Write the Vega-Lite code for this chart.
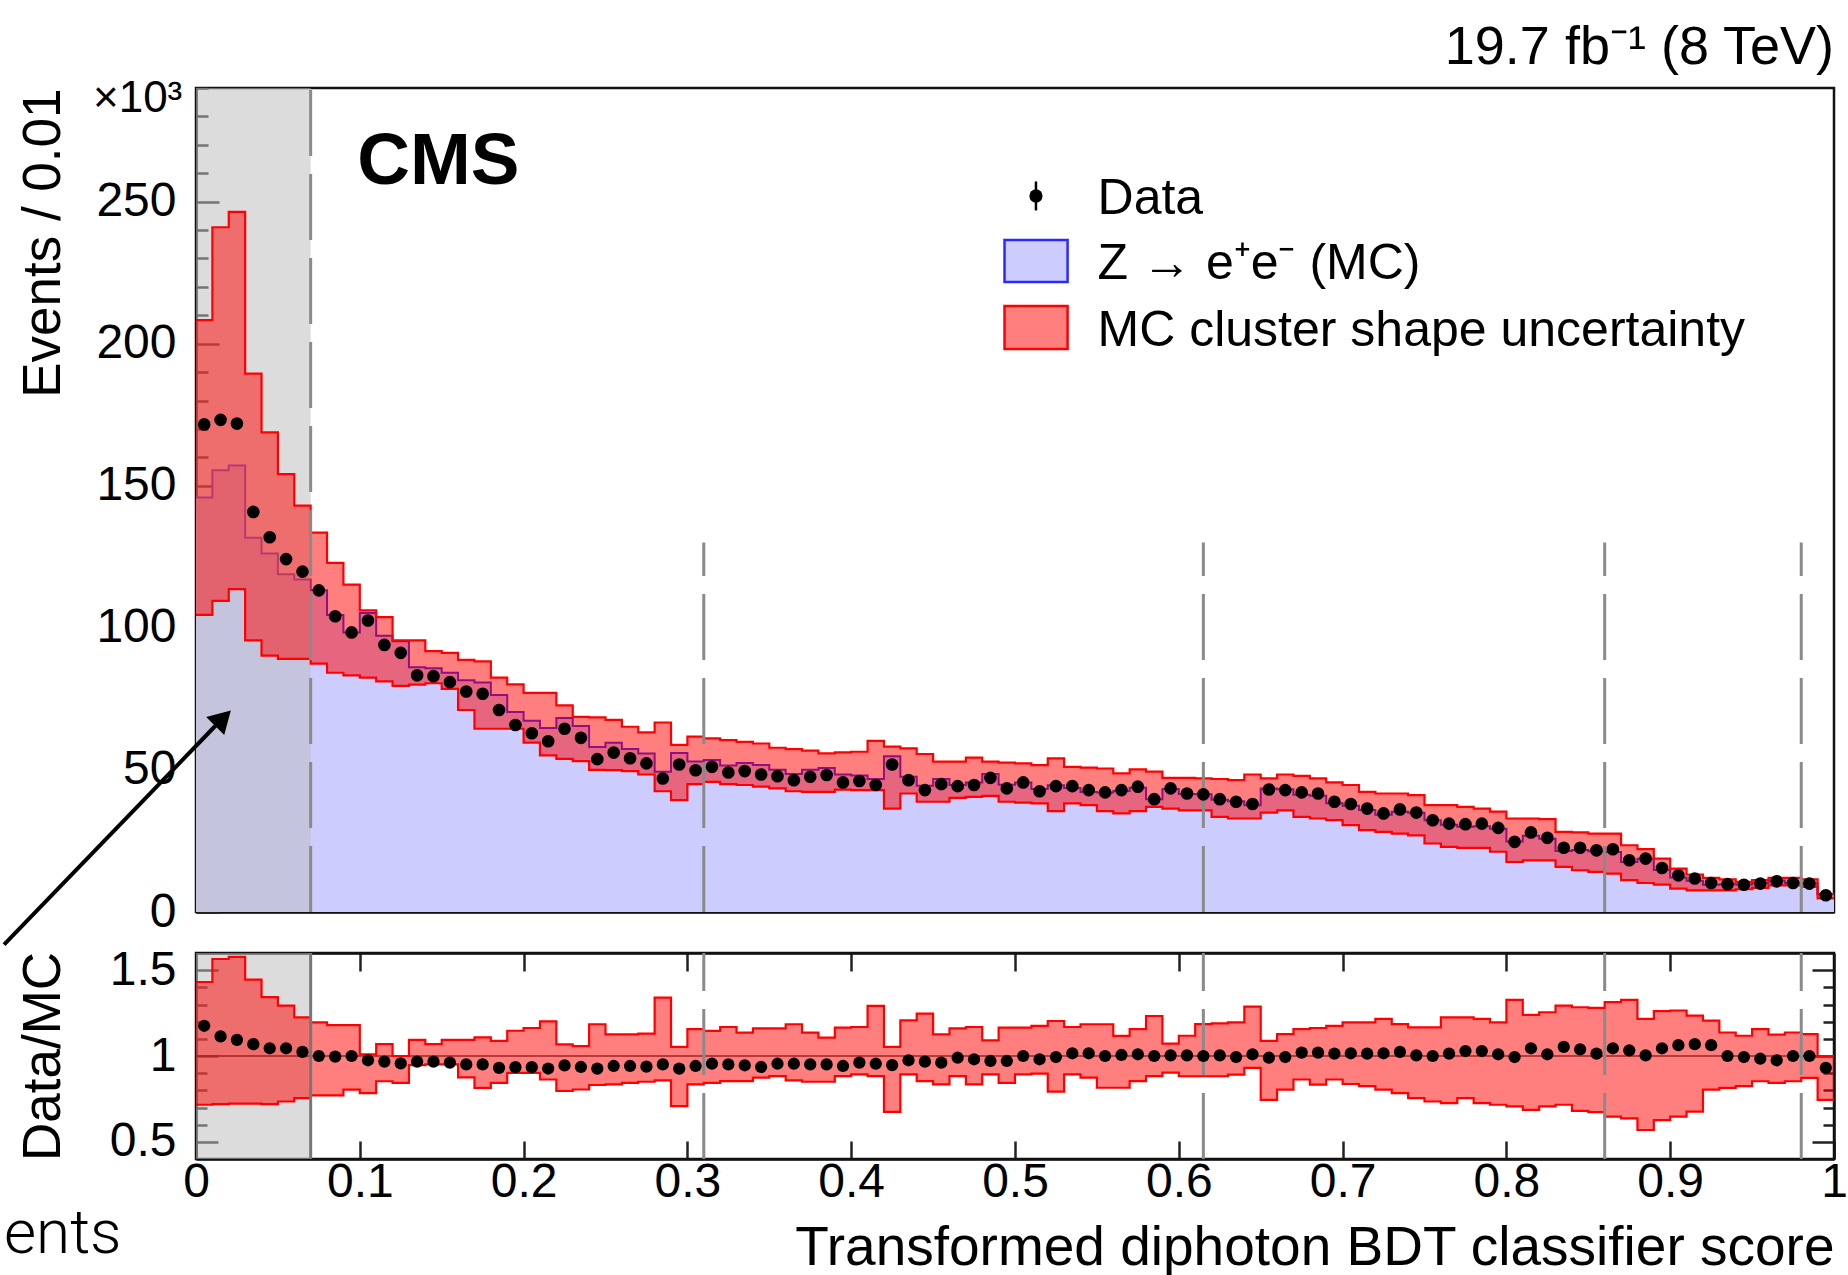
{
  "$schema": "https://vega.github.io/schema/vega-lite/v6.json",
  "background": "white",
  "padding": {"left": 0, "top": 19, "right": 5, "bottom": 0},
  "spacing": 41,
  "bounds": "flush",
  "config": {
    "font": "Liberation Sans",
    "view": {"stroke": "#111111", "strokeWidth": 2.5},
    "axis": {"grid": false, "domain": true, "domainColor": "#111111", "domainWidth": 2.5, "zindex": 1, "labelFont": "Liberation Sans", "labelFontSize": 48, "labelColor": "#000000", "titleFont": "Liberation Sans", "titleFontSize": 53, "titleFontWeight": "normal", "titleColor": "#000000", "tickColor": "#222222", "tickWidth": 2.5, "labelFlush": false, "labelOverlap": false, "labelBound": false}
  },
  "datasets": {
    "bins": [
      {"x0":0.00,"x1":0.01,"xc":0.005,"d":171.6,"n":145.9,"lo":104.6,"hi":208.3,"r":1.176,"rlo":0.716,"rhi":1.431},
      {"x0":0.01,"x1":0.02,"xc":0.015,"d":173.2,"n":155.5,"lo":109.5,"hi":241.0,"r":1.114,"rlo":0.720,"rhi":1.565},
      {"x0":0.02,"x1":0.03,"xc":0.025,"d":171.9,"n":157.1,"lo":113.6,"hi":246.4,"r":1.094,"rlo":0.722,"rhi":1.578},
      {"x0":0.03,"x1":0.04,"xc":0.035,"d":140.8,"n":131.7,"lo":95.6,"hi":189.5,"r":1.069,"rlo":0.722,"rhi":1.445},
      {"x0":0.04,"x1":0.05,"xc":0.045,"d":131.9,"n":126.2,"lo":90.2,"hi":168.8,"r":1.045,"rlo":0.720,"rhi":1.343},
      {"x0":0.05,"x1":0.06,"xc":0.055,"d":124.2,"n":118.9,"lo":89.1,"hi":154.1,"r":1.045,"rlo":0.735,"rhi":1.294},
      {"x0":0.06,"x1":0.07,"xc":0.065,"d":119.8,"n":117.0,"lo":89.1,"hi":143.0,"r":1.024,"rlo":0.755,"rhi":1.225},
      {"x0":0.07,"x1":0.08,"xc":0.075,"d":113.2,"n":113.2,"lo":87.4,"hi":133.5,"r":1.000,"rlo":0.771,"rhi":1.196},
      {"x0":0.08,"x1":0.09,"xc":0.085,"d":104.1,"n":104.5,"lo":84.2,"hi":122.9,"r":0.996,"rlo":0.771,"rhi":1.180},
      {"x0":0.09,"x1":0.10,"xc":0.095,"d":98.4,"n":98.4,"lo":83.3,"hi":115.2,"r":1.000,"rlo":0.804,"rhi":1.180},
      {"x0":0.10,"x1":0.11,"xc":0.105,"d":102.6,"n":105.2,"lo":82.5,"hi":106.2,"r":0.975,"rlo":0.784,"rhi":1.010},
      {"x0":0.11,"x1":0.12,"xc":0.115,"d":94.0,"n":97.2,"lo":81.2,"hi":103.8,"r":0.967,"rlo":0.853,"rhi":1.069},
      {"x0":0.12,"x1":0.13,"xc":0.125,"d":91.2,"n":95.3,"lo":79.6,"hi":95.6,"r":0.957,"rlo":0.843,"rhi":1.000},
      {"x0":0.13,"x1":0.14,"xc":0.135,"d":83.3,"n":86.1,"lo":80.0,"hi":95.6,"r":0.967,"rlo":0.947,"rhi":1.094},
      {"x0":0.14,"x1":0.15,"xc":0.145,"d":83.0,"n":85.8,"lo":80.5,"hi":91.8,"r":0.967,"rlo":0.951,"rhi":1.069},
      {"x0":0.15,"x1":0.16,"xc":0.155,"d":80.9,"n":84.2,"lo":78.5,"hi":91.2,"r":0.961,"rlo":0.951,"rhi":1.094},
      {"x0":0.16,"x1":0.17,"xc":0.165,"d":77.6,"n":81.6,"lo":71.1,"hi":88.7,"r":0.951,"rlo":0.876,"rhi":1.094},
      {"x0":0.17,"x1":0.18,"xc":0.175,"d":76.8,"n":80.8,"lo":64.5,"hi":88.2,"r":0.951,"rlo":0.814,"rhi":1.108},
      {"x0":0.18,"x1":0.19,"xc":0.185,"d":71.1,"n":76.4,"lo":64.5,"hi":82.5,"r":0.931,"rlo":0.843,"rhi":1.088},
      {"x0":0.19,"x1":0.20,"xc":0.195,"d":65.8,"n":70.4,"lo":64.5,"hi":80.1,"r":0.935,"rlo":0.902,"rhi":1.147},
      {"x0":0.20,"x1":0.21,"xc":0.205,"d":62.9,"n":67.3,"lo":59.6,"hi":77.1,"r":0.935,"rlo":0.902,"rhi":1.163},
      {"x0":0.21,"x1":0.22,"xc":0.215,"d":60.1,"n":64.8,"lo":55.1,"hi":77.1,"r":0.927,"rlo":0.863,"rhi":1.202},
      {"x0":0.22,"x1":0.23,"xc":0.225,"d":64.5,"n":68.3,"lo":53.9,"hi":72.7,"r":0.945,"rlo":0.796,"rhi":1.068},
      {"x0":0.23,"x1":0.24,"xc":0.235,"d":61.3,"n":65.5,"lo":53.1,"hi":68.7,"r":0.936,"rlo":0.805,"rhi":1.058},
      {"x0":0.24,"x1":0.25,"xc":0.245,"d":53.8,"n":58.1,"lo":50.0,"hi":68.5,"r":0.926,"rlo":0.831,"rhi":1.185},
      {"x0":0.25,"x1":0.26,"xc":0.255,"d":56.1,"n":59.6,"lo":49.9,"hi":67.6,"r":0.942,"rlo":0.835,"rhi":1.126},
      {"x0":0.26,"x1":0.27,"xc":0.265,"d":54.1,"n":57.4,"lo":49.6,"hi":65.2,"r":0.942,"rlo":0.844,"rhi":1.126},
      {"x0":0.27,"x1":0.28,"xc":0.275,"d":52.3,"n":55.8,"lo":48.4,"hi":63.2,"r":0.938,"rlo":0.850,"rhi":1.130},
      {"x0":0.28,"x1":0.29,"xc":0.285,"d":47.0,"n":49.4,"lo":42.5,"hi":66.7,"r":0.951,"rlo":0.858,"rhi":1.340},
      {"x0":0.29,"x1":0.30,"xc":0.295,"d":51.9,"n":56.0,"lo":39.4,"hi":58.8,"r":0.926,"rlo":0.708,"rhi":1.053},
      {"x0":0.30,"x1":0.31,"xc":0.305,"d":49.9,"n":53.0,"lo":45.0,"hi":61.7,"r":0.942,"rlo":0.835,"rhi":1.156},
      {"x0":0.31,"x1":0.32,"xc":0.315,"d":51.1,"n":53.5,"lo":45.8,"hi":61.1,"r":0.955,"rlo":0.844,"rhi":1.146},
      {"x0":0.32,"x1":0.33,"xc":0.325,"d":49.1,"n":51.6,"lo":45.0,"hi":60.5,"r":0.951,"rlo":0.854,"rhi":1.169},
      {"x0":0.33,"x1":0.34,"xc":0.335,"d":49.6,"n":52.4,"lo":44.7,"hi":59.9,"r":0.946,"rlo":0.854,"rhi":1.136},
      {"x0":0.34,"x1":0.35,"xc":0.345,"d":48.4,"n":51.7,"lo":44.1,"hi":59.3,"r":0.936,"rlo":0.874,"rhi":1.161},
      {"x0":0.35,"x1":0.36,"xc":0.355,"d":47.8,"n":50.1,"lo":43.5,"hi":57.8,"r":0.955,"rlo":0.883,"rhi":1.161},
      {"x0":0.36,"x1":0.37,"xc":0.365,"d":46.4,"n":48.6,"lo":42.5,"hi":57.3,"r":0.955,"rlo":0.858,"rhi":1.185},
      {"x0":0.37,"x1":0.38,"xc":0.375,"d":47.6,"n":50.1,"lo":42.3,"hi":56.8,"r":0.951,"rlo":0.850,"rhi":1.136},
      {"x0":0.38,"x1":0.39,"xc":0.385,"d":48.2,"n":50.7,"lo":42.3,"hi":55.8,"r":0.951,"rlo":0.850,"rhi":1.107},
      {"x0":0.39,"x1":0.40,"xc":0.395,"d":45.6,"n":48.4,"lo":43.1,"hi":56.2,"r":0.942,"rlo":0.883,"rhi":1.165},
      {"x0":0.40,"x1":0.41,"xc":0.405,"d":46.1,"n":48.0,"lo":42.9,"hi":56.4,"r":0.961,"rlo":0.893,"rhi":1.169},
      {"x0":0.41,"x1":0.42,"xc":0.415,"d":44.7,"n":46.8,"lo":42.9,"hi":60.2,"r":0.955,"rlo":0.883,"rhi":1.292},
      {"x0":0.42,"x1":0.43,"xc":0.425,"d":51.9,"n":54.8,"lo":36.4,"hi":58.2,"r":0.947,"rlo":0.675,"rhi":1.053},
      {"x0":0.43,"x1":0.44,"xc":0.435,"d":46.4,"n":47.6,"lo":41.7,"hi":57.6,"r":0.975,"rlo":0.893,"rhi":1.208},
      {"x0":0.44,"x1":0.45,"xc":0.445,"d":42.9,"n":44.4,"lo":38.8,"hi":55.6,"r":0.967,"rlo":0.854,"rhi":1.247},
      {"x0":0.45,"x1":0.46,"xc":0.455,"d":45.0,"n":46.8,"lo":38.8,"hi":52.9,"r":0.961,"rlo":0.835,"rhi":1.126},
      {"x0":0.46,"x1":0.47,"xc":0.465,"d":44.3,"n":44.7,"lo":40.2,"hi":52.9,"r":0.990,"rlo":0.883,"rhi":1.161},
      {"x0":0.47,"x1":0.48,"xc":0.475,"d":44.7,"n":45.6,"lo":40.5,"hi":54.3,"r":0.981,"rlo":0.835,"rhi":1.169},
      {"x0":0.48,"x1":0.49,"xc":0.485,"d":47.2,"n":48.6,"lo":40.9,"hi":52.9,"r":0.971,"rlo":0.893,"rhi":1.091},
      {"x0":0.49,"x1":0.50,"xc":0.495,"d":43.5,"n":44.8,"lo":38.8,"hi":52.6,"r":0.971,"rlo":0.844,"rhi":1.165},
      {"x0":0.50,"x1":0.51,"xc":0.505,"d":45.6,"n":45.6,"lo":38.5,"hi":52.3,"r":1.000,"rlo":0.893,"rhi":1.165},
      {"x0":0.51,"x1":0.52,"xc":0.515,"d":42.5,"n":43.3,"lo":38.2,"hi":51.7,"r":0.981,"rlo":0.897,"rhi":1.175},
      {"x0":0.52,"x1":0.53,"xc":0.525,"d":44.3,"n":44.6,"lo":35.5,"hi":54.1,"r":0.994,"rlo":0.792,"rhi":1.204},
      {"x0":0.53,"x1":0.54,"xc":0.535,"d":44.3,"n":43.6,"lo":38.2,"hi":51.1,"r":1.016,"rlo":0.893,"rhi":1.169},
      {"x0":0.54,"x1":0.55,"xc":0.545,"d":42.9,"n":42.2,"lo":37.6,"hi":50.8,"r":1.016,"rlo":0.874,"rhi":1.185},
      {"x0":0.55,"x1":0.56,"xc":0.555,"d":42.1,"n":42.1,"lo":35.5,"hi":50.5,"r":1.000,"rlo":0.815,"rhi":1.185},
      {"x0":0.56,"x1":0.57,"xc":0.565,"d":42.9,"n":42.6,"lo":34.7,"hi":48.8,"r":1.006,"rlo":0.815,"rhi":1.117},
      {"x0":0.57,"x1":0.58,"xc":0.575,"d":44.1,"n":43.7,"lo":35.5,"hi":50.2,"r":1.010,"rlo":0.854,"rhi":1.156},
      {"x0":0.58,"x1":0.59,"xc":0.585,"d":39.7,"n":39.7,"lo":37.0,"hi":49.4,"r":1.000,"rlo":0.883,"rhi":1.233},
      {"x0":0.59,"x1":0.60,"xc":0.595,"d":43.5,"n":43.3,"lo":36.4,"hi":47.2,"r":1.004,"rlo":0.903,"rhi":1.072},
      {"x0":0.60,"x1":0.61,"xc":0.605,"d":41.7,"n":41.5,"lo":35.8,"hi":47.2,"r":1.004,"rlo":0.882,"rhi":1.118},
      {"x0":0.61,"x1":0.62,"xc":0.615,"d":41.4,"n":41.4,"lo":35.8,"hi":47.0,"r":1.000,"rlo":0.882,"rhi":1.186},
      {"x0":0.62,"x1":0.63,"xc":0.625,"d":39.7,"n":39.5,"lo":33.5,"hi":46.8,"r":1.004,"rlo":0.882,"rhi":1.190},
      {"x0":0.63,"x1":0.64,"xc":0.635,"d":38.8,"n":39.0,"lo":32.9,"hi":46.4,"r":0.994,"rlo":0.892,"rhi":1.196},
      {"x0":0.64,"x1":0.65,"xc":0.645,"d":38.0,"n":37.6,"lo":32.9,"hi":48.4,"r":1.010,"rlo":0.931,"rhi":1.288},
      {"x0":0.65,"x1":0.66,"xc":0.655,"d":43.1,"n":43.5,"lo":35.0,"hi":47.0,"r":0.990,"rlo":0.745,"rhi":1.088},
      {"x0":0.66,"x1":0.67,"xc":0.665,"d":42.9,"n":43.2,"lo":35.8,"hi":48.4,"r":0.994,"rlo":0.804,"rhi":1.127},
      {"x0":0.67,"x1":0.68,"xc":0.675,"d":42.1,"n":41.3,"lo":33.5,"hi":47.9,"r":1.020,"rlo":0.863,"rhi":1.157},
      {"x0":0.68,"x1":0.69,"xc":0.685,"d":41.7,"n":40.9,"lo":32.9,"hi":47.0,"r":1.020,"rlo":0.833,"rhi":1.163},
      {"x0":0.69,"x1":0.70,"xc":0.695,"d":38.8,"n":38.3,"lo":32.3,"hi":45.6,"r":1.014,"rlo":0.863,"rhi":1.176},
      {"x0":0.70,"x1":0.71,"xc":0.705,"d":38.0,"n":37.4,"lo":30.6,"hi":44.7,"r":1.016,"rlo":0.837,"rhi":1.196},
      {"x0":0.71,"x1":0.72,"xc":0.715,"d":36.4,"n":35.9,"lo":28.8,"hi":42.3,"r":1.014,"rlo":0.824,"rhi":1.196},
      {"x0":0.72,"x1":0.73,"xc":0.725,"d":34.7,"n":34.2,"lo":28.2,"hi":41.7,"r":1.016,"rlo":0.804,"rhi":1.216},
      {"x0":0.73,"x1":0.74,"xc":0.735,"d":36.1,"n":35.3,"lo":27.6,"hi":41.7,"r":1.024,"rlo":0.784,"rhi":1.186},
      {"x0":0.74,"x1":0.75,"xc":0.745,"d":35.0,"n":34.9,"lo":27.0,"hi":41.1,"r":1.004,"rlo":0.755,"rhi":1.167},
      {"x0":0.75,"x1":0.76,"xc":0.755,"d":32.3,"n":32.3,"lo":24.1,"hi":37.6,"r":1.000,"rlo":0.735,"rhi":1.167},
      {"x0":0.76,"x1":0.77,"xc":0.765,"d":31.1,"n":30.7,"lo":22.9,"hi":37.6,"r":1.014,"rlo":0.725,"rhi":1.225},
      {"x0":0.77,"x1":0.78,"xc":0.775,"d":30.9,"n":30.0,"lo":22.6,"hi":37.0,"r":1.029,"rlo":0.755,"rhi":1.225},
      {"x0":0.78,"x1":0.79,"xc":0.785,"d":31.1,"n":30.2,"lo":22.6,"hi":36.4,"r":1.029,"rlo":0.725,"rhi":1.216},
      {"x0":0.79,"x1":0.80,"xc":0.795,"d":29.6,"n":29.3,"lo":21.2,"hi":35.3,"r":1.010,"rlo":0.716,"rhi":1.196},
      {"x0":0.80,"x1":0.81,"xc":0.805,"d":24.7,"n":24.8,"lo":17.6,"hi":32.9,"r":0.994,"rlo":0.706,"rhi":1.327},
      {"x0":0.81,"x1":0.82,"xc":0.815,"d":28.0,"n":26.8,"lo":18.2,"hi":32.9,"r":1.045,"rlo":0.686,"rhi":1.239},
      {"x0":0.82,"x1":0.83,"xc":0.825,"d":26.1,"n":25.8,"lo":18.2,"hi":32.7,"r":1.010,"rlo":0.706,"rhi":1.255},
      {"x0":0.83,"x1":0.84,"xc":0.835,"d":22.6,"n":21.5,"lo":15.9,"hi":28.2,"r":1.053,"rlo":0.716,"rhi":1.294},
      {"x0":0.84,"x1":0.85,"xc":0.845,"d":22.6,"n":21.8,"lo":14.7,"hi":28.0,"r":1.039,"rlo":0.680,"rhi":1.284},
      {"x0":0.85,"x1":0.86,"xc":0.855,"d":21.7,"n":21.4,"lo":14.1,"hi":27.6,"r":1.014,"rlo":0.673,"rhi":1.280},
      {"x0":0.86,"x1":0.87,"xc":0.865,"d":22.1,"n":21.1,"lo":13.5,"hi":27.6,"r":1.045,"rlo":0.647,"rhi":1.314},
      {"x0":0.87,"x1":0.88,"xc":0.875,"d":18.2,"n":17.6,"lo":11.2,"hi":23.5,"r":1.033,"rlo":0.637,"rhi":1.327},
      {"x0":0.88,"x1":0.89,"xc":0.885,"d":18.8,"n":18.7,"lo":10.2,"hi":22.1,"r":1.004,"rlo":0.569,"rhi":1.216},
      {"x0":0.89,"x1":0.90,"xc":0.895,"d":15.5,"n":14.8,"lo":9.6,"hi":18.8,"r":1.045,"rlo":0.627,"rhi":1.261},
      {"x0":0.90,"x1":0.91,"xc":0.905,"d":12.9,"n":12.1,"lo":8.2,"hi":15.3,"r":1.063,"rlo":0.647,"rhi":1.265},
      {"x0":0.91,"x1":0.92,"xc":0.915,"d":11.8,"n":11.0,"lo":7.6,"hi":13.2,"r":1.069,"rlo":0.676,"rhi":1.235},
      {"x0":0.92,"x1":0.93,"xc":0.925,"d":10.2,"n":9.6,"lo":7.6,"hi":12.0,"r":1.063,"rlo":0.804,"rhi":1.206},
      {"x0":0.93,"x1":0.94,"xc":0.935,"d":9.8,"n":9.8,"lo":7.6,"hi":11.5,"r":1.000,"rlo":0.814,"rhi":1.137},
      {"x0":0.94,"x1":0.95,"xc":0.945,"d":9.6,"n":9.7,"lo":8.0,"hi":10.6,"r":0.994,"rlo":0.824,"rhi":1.118},
      {"x0":0.95,"x1":0.96,"xc":0.955,"d":10.0,"n":10.2,"lo":8.5,"hi":11.2,"r":0.984,"rlo":0.853,"rhi":1.157},
      {"x0":0.96,"x1":0.97,"xc":0.965,"d":10.8,"n":11.1,"lo":9.4,"hi":12.0,"r":0.975,"rlo":0.843,"rhi":1.124},
      {"x0":0.97,"x1":0.98,"xc":0.975,"d":10.2,"n":10.2,"lo":9.4,"hi":12.0,"r":1.000,"rlo":0.853,"rhi":1.137},
      {"x0":0.98,"x1":0.99,"xc":0.985,"d":10.0,"n":10.0,"lo":8.8,"hi":11.5,"r":1.000,"rlo":0.873,"rhi":1.127},
      {"x0":0.99,"x1":1.00,"xc":0.995,"d":5.9,"n":6.3,"lo":4.8,"hi":6.3,"r":0.931,"rlo":0.745,"rhi":1.000}
    ],
    "bounds": [{"b": 0.07}, {"b": 0.31}, {"b": 0.615}, {"b": 0.86}, {"b": 0.98}],
    "region": [{"start": 0, "end": 0.07}]
  },
  "vconcat": [
    {
      "width": 1638,
      "height": 824,
      "data": {"name": "bins"},
      "resolve": {"axis": {"x": "independent", "y": "independent"}},
      "layer": [
        {
          "transform": [{"fold": ["x0", "x1"], "as": ["edge", "xv"]}],
          "mark": {"type": "area", "color": "#ccccff", "opacity": 1},
          "encoding": {
            "x": {"field": "xv", "type": "quantitative", "scale": {"domain": [0, 1], "nice": false, "zero": false},
                  "axis": {"orient": "bottom", "values": [0.1, 0.2, 0.3, 0.4, 0.5, 0.6, 0.7, 0.8, 0.9], "labels": false, "tickSize": -21, "title": null}},
            "y": {"field": "n", "type": "quantitative", "stack": null, "scale": {"domain": [0, 290], "nice": false, "zero": false},
                  "axis": {"orient": "left", "values": [0,10,20,30,40,50,60,70,80,90,100,110,120,130,140,150,160,170,180,190,200,210,220,230,240,250,260,270,280,290],
                           "labelExpr": "datum.value % 50 === 0 ? datum.label : ''",
                           "tickSize": {"condition": {"test": "datum.value % 50 === 0", "value": -23}, "value": -12},
                           "labelPadding": 43, "title": "Events / 0.01", "titleAngle": 270, "titleAlign": "right", "titleBaseline": "middle", "titleX": -153, "titleY": 0}},
            "order": [{"field": "x0", "type": "quantitative"}, {"field": "edge", "type": "ordinal"}]
          }
        },
        {
          "transform": [{"fold": ["x0", "x1"], "as": ["edge", "xv"]}],
          "mark": {"type": "line", "color": "#2020ff", "strokeWidth": 2},
          "encoding": {
            "x": {"field": "xv", "type": "quantitative", "axis": null},
            "y": {"field": "n", "type": "quantitative", "axis": null},
            "order": [{"field": "x0", "type": "quantitative"}, {"field": "edge", "type": "ordinal"}]
          }
        },
        {
          "data": {"name": "region"},
          "mark": {"type": "rect", "color": "#bdbdbd", "opacity": 0.53},
          "encoding": {
            "x": {"field": "start", "type": "quantitative", "axis": null},
            "x2": {"field": "end"},
            "y": {"datum": 0, "axis": null},
            "y2": {"datum": 290}
          }
        },
        {
          "transform": [{"fold": ["x0", "x1"], "as": ["edge", "xv"]}],
          "mark": {"type": "area", "color": "#ff0000", "opacity": 0.5},
          "encoding": {
            "x": {"field": "xv", "type": "quantitative", "axis": null},
            "y": {"field": "lo", "type": "quantitative", "stack": null, "axis": null},
            "y2": {"field": "hi"},
            "order": [{"field": "x0", "type": "quantitative"}, {"field": "edge", "type": "ordinal"}]
          }
        },
        {
          "transform": [{"fold": ["x0", "x1"], "as": ["edge", "xv"]}],
          "mark": {"type": "line", "color": "#ff0000", "strokeWidth": 2.2},
          "encoding": {
            "x": {"field": "xv", "type": "quantitative", "axis": null},
            "y": {"field": "hi", "type": "quantitative", "axis": null},
            "order": [{"field": "x0", "type": "quantitative"}, {"field": "edge", "type": "ordinal"}]
          }
        },
        {
          "transform": [{"fold": ["x0", "x1"], "as": ["edge", "xv"]}],
          "mark": {"type": "line", "color": "#ff0000", "strokeWidth": 2.2},
          "encoding": {
            "x": {"field": "xv", "type": "quantitative", "axis": null},
            "y": {"field": "lo", "type": "quantitative", "axis": null},
            "order": [{"field": "x0", "type": "quantitative"}, {"field": "edge", "type": "ordinal"}]
          }
        },
        {
          "data": {"name": "bounds"},
          "transform": [{"filter": "datum.b > 0.1"}],
          "mark": {"type": "rule", "color": "#8a8a8a", "strokeWidth": 3, "strokeDash": [66, 18]},
          "encoding": {
            "x": {"field": "b", "type": "quantitative", "axis": null},
            "y": {"datum": 0, "axis": null},
            "y2": {"datum": 130}
          }
        },
        {
          "data": {"name": "bounds"},
          "transform": [{"filter": "datum.b < 0.1"}],
          "mark": {"type": "rule", "color": "#8a8a8a", "strokeWidth": 3, "strokeDash": [66, 18]},
          "encoding": {
            "x": {"field": "b", "type": "quantitative", "axis": null},
            "y": {"datum": 0, "axis": null},
            "y2": {"datum": 290}
          }
        },
        {
          "mark": {"type": "point", "filled": true, "size": 160, "opacity": 1, "color": "#000000"},
          "encoding": {
            "x": {"field": "xc", "type": "quantitative", "axis": null},
            "y": {"field": "d", "type": "quantitative", "axis": null}
          }
        },
        {
          "data": {"values": [{}]},
          "mark": {"type": "rule", "color": "#000000", "strokeWidth": 2.5},
          "encoding": {"x": {"datum": 0.5128, "axis": null}, "y": {"datum": 246.9, "axis": null}, "y2": {"datum": 257.1}}
        },
        {
          "data": {"values": [{}]},
          "mark": {"type": "point", "filled": true, "size": 175, "opacity": 1, "color": "#000000"},
          "encoding": {"x": {"datum": 0.5128, "axis": null}, "y": {"datum": 252.0, "axis": null}}
        },
        {
          "data": {"values": [{}]},
          "mark": {"type": "rect", "fill": "#ccccff", "stroke": "#2a2aff", "strokeWidth": 2.5},
          "encoding": {"x": {"datum": 0.4936, "axis": null}, "x2": {"datum": 0.5321}, "y": {"datum": 221.7, "axis": null}, "y2": {"datum": 236.5}}
        },
        {
          "data": {"values": [{}]},
          "mark": {"type": "rect", "fill": "#ff7f7f", "stroke": "#ff0000", "strokeWidth": 2.5},
          "encoding": {"x": {"datum": 0.4936, "axis": null}, "x2": {"datum": 0.5321}, "y": {"datum": 198.1, "axis": null}, "y2": {"datum": 213.3}}
        },
        {
          "data": {"values": [{}]},
          "mark": {"type": "text", "text": "Data", "fontSize": 50, "font": "Liberation Sans", "align": "left", "baseline": "alphabetic", "color": "#000000"},
          "encoding": {"x": {"datum": 0.5504, "axis": null}, "y": {"datum": 245.7, "axis": null}}
        },
        {
          "data": {"values": [{}]},
          "mark": {"type": "text", "text": "Z → e⁺e⁻ (MC)", "fontSize": 50, "font": "Liberation Sans", "align": "left", "baseline": "alphabetic", "color": "#000000"},
          "encoding": {"x": {"datum": 0.5504, "axis": null}, "y": {"datum": 222.8, "axis": null}}
        },
        {
          "data": {"values": [{}]},
          "mark": {"type": "text", "text": "MC cluster shape uncertainty", "fontSize": 50, "font": "Liberation Sans", "align": "left", "baseline": "alphabetic", "color": "#000000"},
          "encoding": {"x": {"datum": 0.5504, "axis": null}, "y": {"datum": 199.3, "axis": null}}
        },
        {
          "data": {"values": [{}]},
          "mark": {"type": "text", "text": "CMS", "fontSize": 73, "fontWeight": "bold", "font": "Liberation Sans", "align": "left", "baseline": "alphabetic", "color": "#000000"},
          "encoding": {"x": {"datum": 0.0985, "axis": null}, "y": {"datum": 256.3, "axis": null}}
        },
        {
          "data": {"values": [{}]},
          "mark": {"type": "text", "text": "×10³", "fontSize": 44, "font": "Liberation Sans", "align": "left", "baseline": "alphabetic", "color": "#000000"},
          "encoding": {"x": {"datum": -0.0629, "axis": null}, "y": {"datum": 281.6, "axis": null}}
        },
        {
          "data": {"values": [{}]},
          "mark": {"type": "text", "text": "19.7 fb⁻¹ (8 TeV)", "fontSize": 54, "font": "Liberation Sans", "align": "right", "baseline": "alphabetic", "color": "#000000"},
          "encoding": {"x": {"datum": 1.0, "axis": null}, "y": {"datum": 298.6, "axis": null}}
        },
        {
          "data": {"values": [{}]},
          "mark": {"type": "rule", "color": "#000000", "strokeWidth": 4},
          "encoding": {"x": {"datum": -0.1172, "axis": null}, "y": {"datum": -11.5, "axis": null}, "x2": {"datum": 0.0125}, "y2": {"datum": 65.9}}
        },
        {
          "data": {"values": [{}]},
          "mark": {"type": "point", "shape": "triangle-up", "angle": 45, "filled": true, "size": 650, "color": "#000000", "opacity": 1},
          "encoding": {"x": {"datum": 0.0165, "axis": null}, "y": {"datum": 68.2, "axis": null}}
        }
      ]
    },
    {
      "width": 1638,
      "height": 206,
      "data": {"name": "bins"},
      "resolve": {"axis": {"x": "independent", "y": "independent"}},
      "layer": [
        {
          "data": {"name": "region"},
          "mark": {"type": "rect", "color": "#bdbdbd", "opacity": 0.53},
          "encoding": {
            "x": {"field": "start", "type": "quantitative", "axis": null},
            "x2": {"field": "end"},
            "y": {"datum": 0.4, "axis": null},
            "y2": {"datum": 1.6}
          }
        },
        {
          "data": {"values": [{}]},
          "mark": {"type": "rule", "color": "#444444", "strokeWidth": 1.6},
          "encoding": {
            "x": {"datum": 0, "axis": {"orient": "top", "values": [0.1, 0.2, 0.3, 0.4, 0.5, 0.6, 0.7, 0.8, 0.9], "labels": false, "tickSize": -18, "title": null}},
            "x2": {"datum": 1},
            "y": {"datum": 1, "axis": {"orient": "right", "values": [0.5,0.6,0.7,0.8,0.9,1,1.1,1.2,1.3,1.4,1.5], "labels": false, "title": null,
                                       "tickSize": {"condition": {"test": "round(datum.value*10) % 5 === 0", "value": -22}, "value": -11}}}
          }
        },
        {
          "transform": [{"fold": ["x0", "x1"], "as": ["edge", "xv"]}],
          "mark": {"type": "area", "color": "#ff0000", "opacity": 0.5},
          "encoding": {
            "x": {"field": "xv", "type": "quantitative", "scale": {"domain": [0, 1], "nice": false, "zero": false},
                  "axis": {"orient": "bottom", "values": [0, 0.1, 0.2, 0.3, 0.4, 0.5, 0.6, 0.7, 0.8, 0.9, 1], "format": "~g", "tickSize": -18, "labelPadding": 17,
                           "title": "Transformed diphoton BDT classifier score", "titleFontSize": 55, "titleX": 1638, "titleY": 105, "titleAlign": "right", "titleBaseline": "alphabetic", "titleAnchor": "end"}},
            "y": {"field": "rlo", "type": "quantitative", "stack": null, "scale": {"domain": [0.4, 1.6], "nice": false, "zero": false},
                  "axis": {"orient": "left", "values": [0.5,0.6,0.7,0.8,0.9,1,1.1,1.2,1.3,1.4,1.5], "format": "~g",
                           "labelExpr": "round(datum.value*10) % 5 === 0 ? datum.label : ''",
                           "tickSize": {"condition": {"test": "round(datum.value*10) % 5 === 0", "value": -22}, "value": -11},
                           "labelPadding": 42, "title": "Data/MC", "titleAngle": 270, "titleAlign": "center", "titleBaseline": "middle", "titleX": -153, "titleY": 103}},
            "y2": {"field": "rhi"},
            "order": [{"field": "x0", "type": "quantitative"}, {"field": "edge", "type": "ordinal"}]
          }
        },
        {
          "transform": [{"fold": ["x0", "x1"], "as": ["edge", "xv"]}],
          "mark": {"type": "line", "color": "#ff0000", "strokeWidth": 2.2},
          "encoding": {
            "x": {"field": "xv", "type": "quantitative", "axis": null},
            "y": {"field": "rhi", "type": "quantitative", "axis": null},
            "order": [{"field": "x0", "type": "quantitative"}, {"field": "edge", "type": "ordinal"}]
          }
        },
        {
          "transform": [{"fold": ["x0", "x1"], "as": ["edge", "xv"]}],
          "mark": {"type": "line", "color": "#ff0000", "strokeWidth": 2.2},
          "encoding": {
            "x": {"field": "xv", "type": "quantitative", "axis": null},
            "y": {"field": "rlo", "type": "quantitative", "axis": null},
            "order": [{"field": "x0", "type": "quantitative"}, {"field": "edge", "type": "ordinal"}]
          }
        },
        {
          "data": {"name": "bounds"},
          "transform": [{"filter": "datum.b > 0.1"}],
          "mark": {"type": "rule", "color": "#8a8a8a", "strokeWidth": 3, "strokeDash": [66, 18]},
          "encoding": {
            "x": {"field": "b", "type": "quantitative", "axis": null},
            "y": {"datum": 0.4, "axis": null},
            "y2": {"datum": 1.6}
          }
        },
        {
          "data": {"name": "bounds"},
          "transform": [{"filter": "datum.b < 0.1"}],
          "mark": {"type": "rule", "color": "#777777", "strokeWidth": 3},
          "encoding": {
            "x": {"field": "b", "type": "quantitative", "axis": null},
            "y": {"datum": 0.4, "axis": null},
            "y2": {"datum": 1.6}
          }
        },
        {
          "mark": {"type": "point", "filled": true, "size": 150, "opacity": 1, "color": "#000000"},
          "encoding": {
            "x": {"field": "xc", "type": "quantitative", "axis": null},
            "y": {"field": "r", "type": "quantitative", "axis": null}
          }
        },
        {
          "data": {"values": [{}]},
          "mark": {"type": "text", "text": "ents", "fontSize": 62, "font": "Roboto", "fontWeight": 300, "align": "left", "baseline": "alphabetic", "color": "#000000"},
          "encoding": {"x": {"datum": -0.1172, "axis": null}, "y": {"datum": -0.147, "axis": null}}
        }
      ]
    }
  ]
}
